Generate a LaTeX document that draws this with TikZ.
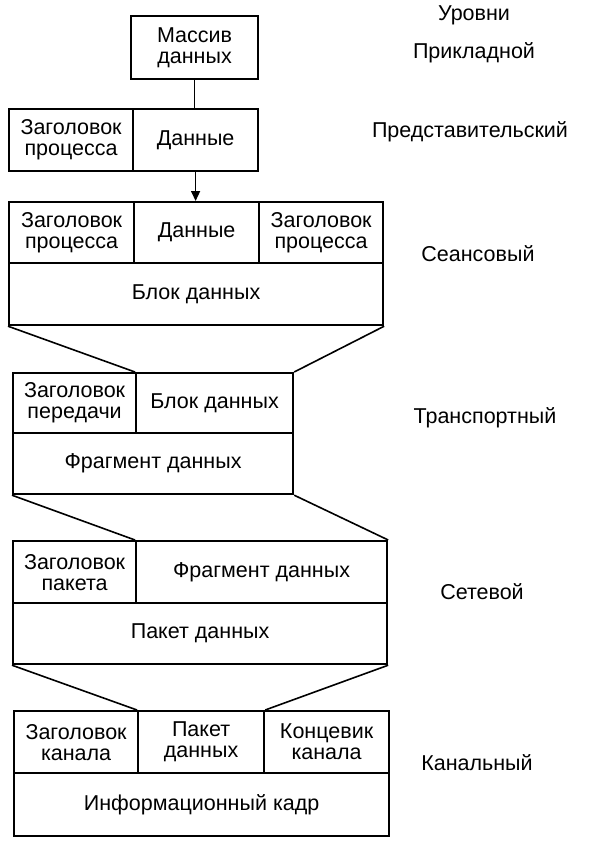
\documentclass[tikz,border=0pt]{standalone}
\usepackage{fontspec}
\setmainfont{Liberation Sans}
\usetikzlibrary{arrows.meta}
\begin{document}
\begin{tikzpicture}[x=1pt,y=-1pt,
  cell/.style={draw,line width=2.2pt,anchor=north west,inner sep=0pt,align=center,
    font=\fontsize{21.5}{21}\selectfont},
  lbl/.style={font=\fontsize{21.5}{21}\selectfont,inner sep=0pt},
  link/.style={line width=1.5pt},
  tie/.style={line width=1.6pt}]
\useasboundingbox (0,0) rectangle (590,848);
\newcommand{\cellat}[6]{\node[cell,minimum width=#4-#2,minimum height=#5-#3] (#1) at (#2,#3) {#6};}
% application
\cellat{A}{130}{15}{257}{78}{Массив\\данных}
% presentation
\cellat{P1}{8}{108}{132}{170}{Заголовок\\процесса}
\cellat{P2}{132}{108}{257}{170}{Данные}
% session
\cellat{S1}{8}{201}{133}{262}{Заголовок\\процесса}
\cellat{S2}{133}{201}{258}{262}{Данные}
\cellat{S3}{258}{201}{382}{262}{Заголовок\\процесса}
\cellat{S4}{8}{262}{382}{324}{Блок данных}
% transport
\cellat{T1}{12}{372}{135}{432}{Заголовок\\передачи}
\cellat{T2}{135}{372}{292}{432}{Блок данных}
\cellat{T3}{12}{432}{292}{493}{Фрагмент данных}
% network
\cellat{N1}{12}{540}{135}{602}{Заголовок\\пакета}
\cellat{N2}{135}{540}{386}{602}{Фрагмент данных}
\cellat{N3}{12}{602}{386}{663}{Пакет данных}
% link
\cellat{L1}{13}{710}{137}{772}{Заголовок\\канала}
\cellat{L2}{137}{710}{263}{772}{Пакет\\данных}
\cellat{L3}{263}{710}{388}{772}{Концевик\\канала}
\cellat{L4}{13}{772}{388}{835}{Информационный кадр}
% connectors
\draw[link] (A.south) -- (A.south |- P2.north);
\draw[link,-{Triangle[length=10pt,width=9pt]}] (P2.south) -- (P2.south |- S2.north);
\draw[tie] (S4.south west) -- (T2.north west);
\draw[tie] (S4.south east) -- (T2.north east);
\draw[tie] (T3.south west) -- (N2.north west);
\draw[tie] (T3.south east) -- (N2.north east);
\draw[tie] (N3.south west) -- (L2.north west);
\draw[tie] (N3.south east) -- (L2.north east);
% level labels
\node[lbl] (h0) at (474,15) {Уровни};
\node[lbl] (h1) at (474,53) {Прикладной};
\node[lbl] (h2) at (470,132) {Представительский};
\node[lbl] (h3) at (478,254) {Сеансовый};
\node[lbl] (h4) at (485,418) {Транспортный};
\node[lbl] (h5) at (482,592) {Сетевой};
\node[lbl] (h6) at (477,763) {Канальный};
\end{tikzpicture}
\end{document}
